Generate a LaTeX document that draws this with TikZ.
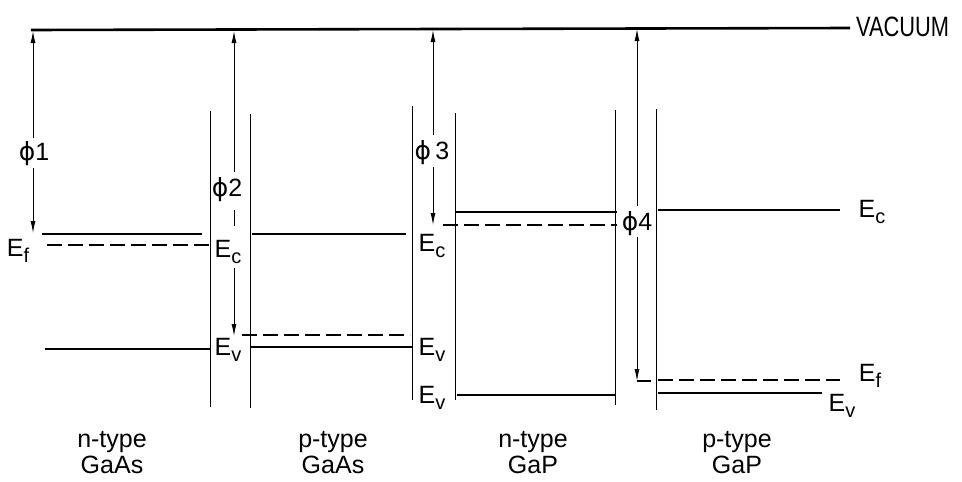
\documentclass[tikz,border=0pt]{standalone}
\usepackage{fontspec}
\setmainfont{Liberation Sans}
\newfontfamily\phifont{DejaVu Sans}
\usetikzlibrary{arrows.meta}
\newcommand{\Esub}[1]{E\raisebox{-0.45ex}{\fontsize{20}{20}\selectfont #1}}
\newcommand{\phiof}[1]{{\phifont ϕ}#1}
\begin{document}
\begin{tikzpicture}[x=1pt,y=-1pt,
  vac/.style={line width=2.6pt},
  lvl/.style={line width=2.3pt},
  fermi/.style={line width=2.5pt, dash pattern=on 15pt off 6pt},
  wall/.style={line width=0.9pt},
  arr/.style={line width=0.9pt, -{Latex[length=12pt,width=5pt]}},
  lbl/.style={font=\fontsize{25}{28}\selectfont, inner sep=0pt},
  matlabel/.style={font=\fontsize{25}{26}\selectfont, align=center, inner sep=0pt}]
\useasboundingbox (0,0) rectangle (962,482);
% vacuum level
\coordinate (vl) at (31,30);
\coordinate (vr) at (850,28);
\draw[vac] (vl) -- (vr);
\node[anchor=west, inner sep=0pt, font=\fontsize{28}{28}\selectfont, xscale=0.78] (vacuum) at (856,27) {VACUUM};
% interface walls
\draw[wall] (210,111) -- (210,407);
\draw[wall] (250,114) -- (250,408);
\draw[wall] (412,106) -- (412,400);
\draw[wall] (455,113) -- (455,400);
\draw[wall] (615,110) -- (615,405);
\draw[wall] (656,109) -- (656,410);
% n-type GaAs
\draw[lvl] (42,234) -- (202,234);
\draw[fermi] (47,245) -- (210,245);
\draw[lvl] (45,349) -- (210,349);
% p-type GaAs
\draw[lvl] (252,234) -- (406,234);
\draw[fermi] (242,335) -- (410,335);
\draw[lvl] (250,347) -- (412,347);
% n-type GaP
\draw[lvl] (455,212) -- (617,212);
\draw[fermi] (443,225) -- (617,225);
\draw[lvl] (457,395) -- (615,395);
% p-type GaP
\draw[lvl] (658,210) -- (840,210);
\draw[fermi] (658,380) -- (840,380);
\draw[lvl] (658,393) -- (822,393);
% phi 1
\node[lbl] (phi1) at (34,154) {\phiof{1}};
\coordinate (p1t) at (33,31);
\coordinate (p1a) at (33,138);
\coordinate (p1b) at (33,168);
\coordinate (p1e) at (33,233);
\draw[arr] (p1a) -- (p1t);
\draw[arr] (p1b) -- (p1e);
% phi 2
\node[lbl] (phi2) at (227,190) {\phiof{2}};
\coordinate (p2t) at (234,31);
\coordinate (p2a) at (234,172);
\coordinate (p2b) at (234,210);
\coordinate (p2c) at (234,226);
\coordinate (p2d) at (234,268);
\coordinate (p2e) at (234,336);
\draw[arr] (p2a) -- (p2t);
\draw[line width=0.9pt] (p2b) -- (p2c);
\draw[arr] (p2d) -- (p2e);
% phi 3
\node[lbl] (phi3) at (432,153) {\phiof{\,3}};
\coordinate (p3t) at (433,30);
\coordinate (p3a) at (433,135);
\coordinate (p3b) at (433,167);
\coordinate (p3e) at (433,225);
\draw[arr] (p3a) -- (p3t);
\draw[arr] (p3b) -- (p3e);
% phi 4
\node[lbl] (phi4) at (637,224) {\phiof{4}};
\coordinate (p4t) at (637,29);
\coordinate (p4a) at (637,206);
\coordinate (p4b) at (637,237);
\coordinate (p4e) at (637,381);
\coordinate (p4f) at (651,381);
\draw[arr] (p4a) -- (p4t);
\draw[arr] (p4b) -- (p4e);
\draw[line width=2pt] (p4e) -- (p4f);
% level labels
\node[lbl] (ef1) at (18,251) {\Esub{f}};
\node[lbl] (ec1) at (228,252) {\Esub{c}};
\node[lbl] (ev1) at (228,350) {\Esub{v}};
\node[lbl] (ec2) at (432,246) {\Esub{c}};
\node[lbl] (ev2) at (432,350) {\Esub{v}};
\node[lbl] (ev3) at (432,398) {\Esub{v}};
\node[lbl] (ec4) at (872,212) {\Esub{c}};
\node[lbl] (ef4) at (870,376) {\Esub{f}};
\node[lbl] (ev4) at (842,406) {\Esub{v}};
% material captions
\node[matlabel] (m1) at (112,453) {n-type\\GaAs};
\node[matlabel] (m2) at (333,453) {p-type\\GaAs};
\node[matlabel] (m3) at (533,453) {n-type\\GaP};
\node[matlabel] (m4) at (737,453) {p-type\\GaP};
\end{tikzpicture}
\end{document}
